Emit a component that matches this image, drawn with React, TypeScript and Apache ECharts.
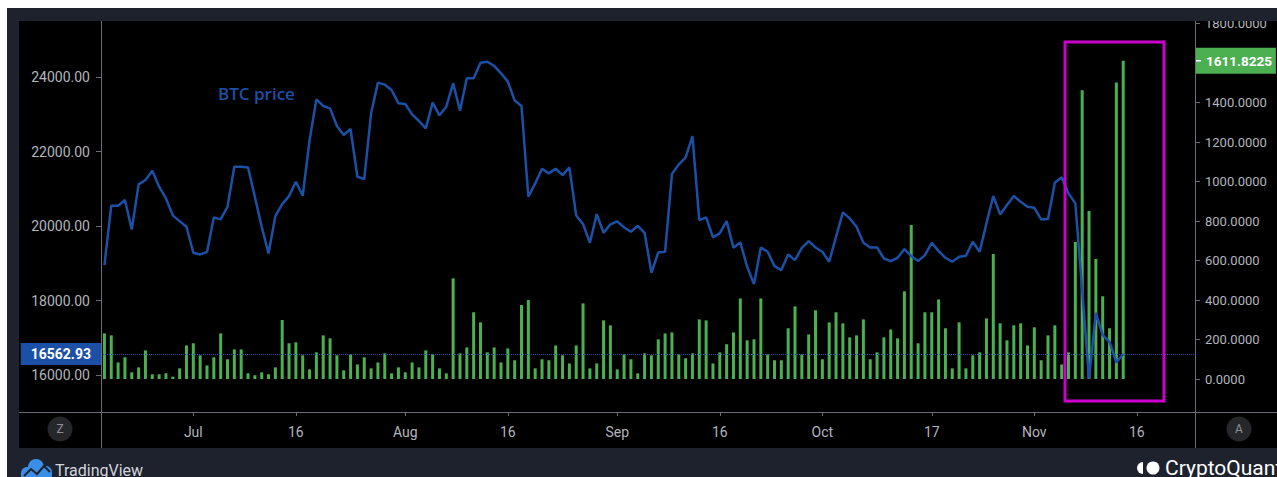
import React, { useEffect, useRef } from "react";
import * as echarts from "echarts";

// ---------- data ----------
const START_DATE = "2022-06-18";
const CATEGORY_COUNT = 160; // axis runs a few days past the last data point

// daily exchange flow (right axis)
const BAR_VALUES = [
  231, 221, 84, 110, 34, 59, 145, 24, 24, 29,
  12, 54, 170, 181, 120, 69, 110, 231, 100, 150,
  150, 29, 19, 34, 24, 59, 299, 181, 186, 120,
  49, 135, 221, 206, 120, 44, 125, 74, 110, 54,
  84, 130, 29, 59, 34, 84, 59, 145, 125, 54,
  29, 510, 130, 160, 338, 287, 135, 160, 84, 155,
  95, 375, 400, 54, 100, 95, 170, 120, 79, 170,
  383, 54, 79, 297, 272, 49, 125, 100, 29, 130,
  120, 201, 231, 236, 125, 105, 130, 302, 297, 79,
  135, 176, 236, 408, 196, 201, 408, 125, 95, 95,
  257, 368, 125, 226, 348, 100, 287, 338, 282, 211,
  221, 302, 100, 135, 211, 251, 206, 444, 780, 181,
  338, 338, 403, 257, 54, 287, 54, 120, 135, 307,
  633, 282, 196, 272, 282, 170, 262, 95, 221, 272,
  74, 135, 694, 1462, 851, 608, 419, 257, 1502, 1611.8225,
];

// BTC price (left axis)
const PRICE_VALUES = [
  18950, 20544, 20544, 20697, 19908, 21117, 21234, 21485, 21055, 20741,
  20285, 20132, 19980, 19281, 19237, 19299, 20231, 20177, 20517, 21592,
  21592, 21574, 20786, 19980, 19264, 20267, 20589, 20804, 21189, 20813,
  22300, 23401, 23222, 23159, 22685, 22443, 22604, 21323, 21261, 23025,
  23849, 23795, 23652, 23294, 23276, 22998, 22819, 22622, 23312, 22971,
  23204, 23831, 23097, 23965, 23965, 24386, 24413, 24297, 24100, 23876,
  23370, 23222, 20786, 21144, 21538, 21413, 21538, 21368, 21574, 20285,
  20052, 19550, 20320, 19819, 20043, 20123, 19962, 19846, 20007, 19819,
  18744, 19290, 19308, 21395, 21655, 21834, 22416, 20159, 20231, 19693,
  19810, 20132, 19416, 19559, 18905, 18440, 19425, 19308, 18923, 18816,
  19237, 19084, 19416, 19595, 19425, 19308, 19040, 19711, 20365, 20204,
  19980, 19550, 19425, 19425, 19129, 19058, 19147, 19380, 19192, 19058,
  19219, 19550, 19326, 19147, 19040, 19174, 19201, 19577, 19308, 20070,
  20804, 20311, 20562, 20804, 20652, 20517, 20490, 20177, 20186, 21162,
  21310, 20876, 20608, 18278, 15906, 17668, 17069, 16889, 16336, 16562.93,
];

const X_TICKS = [
  { date: "2022-07-01", label: "Jul" },
  { date: "2022-07-16", label: "16" },
  { date: "2022-08-01", label: "Aug" },
  { date: "2022-08-16", label: "16" },
  { date: "2022-09-01", label: "Sep" },
  { date: "2022-09-16", label: "16" },
  { date: "2022-10-01", label: "Oct" },
  { date: "2022-10-17", label: "17" },
  { date: "2022-11-01", label: "Nov" },
  { date: "2022-11-16", label: "16" },
];

const LEFT_MIN = 15007;
const LEFT_MAX = 25504;
const RIGHT_MIN = -167;
const RIGHT_MAX = 1813;
const LAST_PRICE = 16562.93;
const LAST_BAR = 1611.8225;

function buildCategories(): string[] {
  const out: string[] = [];
  const base = new Date(START_DATE + "T00:00:00Z").getTime();
  for (let i = 0; i < CATEGORY_COUNT; i++) {
    out.push(new Date(base + i * 86400000).toISOString().slice(0, 10));
  }
  return out;
}

const FONT = "Roboto, 'Noto Sans', sans-serif";
const AXIS_TEXT = "#b2b5be";
const FRAME_LINE = "#6a6d76";
const PANEL = "#1e222d";
const BLUE = "#1c50a6";
const GREEN = "#4caf50";

export default function App() {
  const ref = useRef<HTMLDivElement>(null);

  useEffect(() => {
    if (!ref.current) return;
    const chart = echarts.init(ref.current, undefined, { renderer: "svg" });
    const categories = buildCategories();
    const tickMap = new Map<string, string>();
    X_TICKS.forEach((t) => tickMap.set(t.date, t.label));
    const showTick = (_i: number, v: string) => tickMap.has(v);

    chart.setOption({
      animation: false,
      backgroundColor: "transparent",
      textStyle: { fontFamily: FONT },
      grid: { left: 101, right: 82, top: 21, bottom: 65, containLabel: false },
      xAxis: {
        type: "category",
        position: "bottom",
        data: categories,
        boundaryGap: true,
        axisLine: { show: false, onZero: false },
        axisTick: {
          show: true,
          alignWithLabel: true,
          interval: showTick,
          length: 4,
          lineStyle: { color: FRAME_LINE },
        },
        axisLabel: {
          interval: showTick,
          formatter: (v: string) => tickMap.get(v) || "",
          color: AXIS_TEXT,
          fontSize: 14,
          fontFamily: FONT,
          margin: 13,
        },
        splitLine: { show: false },
      },
      yAxis: [
        {
          type: "value",
          position: "left",
          min: LEFT_MIN,
          max: LEFT_MAX,
          splitNumber: 5,
          axisLine: { show: false, onZero: false },
          axisTick: { show: true, length: 5, lineStyle: { color: FRAME_LINE } },
          axisLabel: {
            color: AXIS_TEXT,
            fontSize: 14,
            fontFamily: FONT,
            margin: 11,
            showMinLabel: false,
            showMaxLabel: false,
            formatter: (v: number) => (v % 2000 === 0 ? v.toFixed(2) : ""),
          },
          splitLine: { show: false },
        },
        {
          type: "value",
          position: "right",
          min: RIGHT_MIN,
          max: RIGHT_MAX,
          splitNumber: 9,
          axisLine: { show: false, onZero: false },
          axisTick: { show: true, length: 5, lineStyle: { color: FRAME_LINE } },
          axisLabel: {
            color: AXIS_TEXT,
            fontSize: 13,
            fontFamily: FONT,
            margin: 10,
            showMinLabel: false,
            showMaxLabel: false,
            formatter: (v: number) => (v % 200 === 0 && v !== 1600 ? v.toFixed(4) : ""),
          },
          splitLine: { show: false },
        },
      ],
      series: [
        {
          name: "Flow",
          type: "bar",
          yAxisIndex: 1,
          data: BAR_VALUES,
          barWidth: 3,
          itemStyle: { color: GREEN },
          z: 2,
          markLine: {
            silent: true,
            symbol: ["none", "none"],
            lineStyle: { color: "rgba(0,0,0,0)", width: 0 },
            data: [{ yAxis: LAST_BAR }],
            label: {
              show: true,
              position: "end",
              distance: 0,
              formatter: "{t|}{v|" + LAST_BAR.toFixed(4) + "}",
              backgroundColor: GREEN,
              padding: [6, 4, 6, 1],
              rich: {
                t: { width: 5, height: 1.5, backgroundColor: "#ffffff" },
                v: {
                  color: "#ffffff",
                  fontSize: 13.5,
                  fontWeight: "bold",
                  fontFamily: FONT,
                  padding: [0, 0, 0, 5],
                },
              },
            },
          },
        },
        {
          name: "BTC price",
          type: "line",
          yAxisIndex: 0,
          data: PRICE_VALUES,
          symbol: "none",
          showSymbol: false,
          lineStyle: { color: BLUE, width: 2.5 },
          z: 3,
          markLine: {
            silent: true,
            symbol: ["none", "none"],
            lineStyle: { color: BLUE, type: "dotted", width: 1 },
            data: [{ yAxis: LAST_PRICE }],
            label: {
              show: true,
              position: "start",
              distance: 0,
              formatter: LAST_PRICE.toFixed(2),
              backgroundColor: BLUE,
              color: "#ffffff",
              fontSize: 14,
              fontWeight: "bold",
              fontFamily: FONT,
              padding: [4, 10, 4, 10],
            },
          },
        },
      ],
      graphic: [
        // top band covering the clipped top label
        { type: "rect", z: 100, silent: true, shape: { x: 7, y: 8, width: 1270, height: 13 }, style: { fill: PANEL } },
        // frame lines
        { type: "line", z: 90, silent: true, shape: { x1: 19, y1: 412.5, x2: 1277, y2: 412.5 }, style: { stroke: FRAME_LINE, lineWidth: 1 } },
        { type: "line", z: 90, silent: true, shape: { x1: 101.5, y1: 21, x2: 101.5, y2: 448 }, style: { stroke: FRAME_LINE, lineWidth: 1 } },
        { type: "line", z: 90, silent: true, shape: { x1: 1195.5, y1: 21, x2: 1195.5, y2: 448 }, style: { stroke: FRAME_LINE, lineWidth: 1 } },
        // annotation box
        { type: "rect", z: 95, silent: true, shape: { x: 1065, y: 42, width: 99, height: 359 }, style: { fill: "none", stroke: "#cc00cc", lineWidth: 3 } },
        // series title
        {
          type: "text", z: 95, silent: true, x: 218, y: 93,
          style: { text: "BTC price", fill: BLUE, fontSize: 17, fontWeight: 600, fontFamily: "'Open Sans', sans-serif", verticalAlign: "middle", align: "left" },
        },
        // Z / A buttons
        { type: "circle", z: 95, silent: true, shape: { cx: 60, cy: 429, r: 12.5 }, style: { fill: "#26272b" } },
        { type: "text", z: 96, silent: true, x: 60, y: 429, style: { text: "Z", fill: "#8d8f96", fontSize: 12, fontFamily: FONT, align: "center", verticalAlign: "middle" } },
        { type: "circle", z: 95, silent: true, shape: { cx: 1239, cy: 429, r: 12.5 }, style: { fill: "#26272b" } },
        { type: "text", z: 96, silent: true, x: 1239, y: 429, style: { text: "A", fill: "#8d8f96", fontSize: 12, fontFamily: FONT, align: "center", verticalAlign: "middle" } },
        // TradingView logo
        { type: "circle", z: 95, silent: true, shape: { cx: 27, cy: 473, r: 6 }, style: { fill: "#3a8ee6" } },
        { type: "circle", z: 95, silent: true, shape: { cx: 36, cy: 467, r: 8 }, style: { fill: "#3a8ee6" } },
        { type: "circle", z: 95, silent: true, shape: { cx: 46, cy: 472, r: 6 }, style: { fill: "#3a8ee6" } },
        { type: "rect", z: 95, silent: true, shape: { x: 21, y: 472, width: 31, height: 5 }, style: { fill: "#3a8ee6" } },
        { type: "polyline", z: 96, silent: true, shape: { points: [[24, 476], [31, 469], [37, 474], [44, 466], [50, 472]] }, style: { stroke: PANEL, lineWidth: 2, fill: "none" } },
        { type: "text", z: 95, silent: true, x: 55, y: 470, style: { text: "TradingView", fill: "#d1d4dc", fontSize: 16, fontFamily: FONT, verticalAlign: "middle", align: "left" } },
        // CryptoQuant logo
        { type: "sector", z: 95, silent: true, shape: { cx: 1143, cy: 468, r: 6, r0: 0, startAngle: Math.PI / 2, endAngle: Math.PI * 1.5 }, style: { fill: "#ffffff" } },
        { type: "circle", z: 95, silent: true, shape: { cx: 1153, cy: 468, r: 6.5 }, style: { fill: "#ffffff" } },
        { type: "text", z: 95, silent: true, x: 1165, y: 468, style: { text: "CryptoQuant", fill: "#ffffff", fontSize: 21, fontFamily: FONT, verticalAlign: "middle", align: "left" } },
      ],
    });

    return () => chart.dispose();
  }, []);

  return (
    <div style={{ position: "absolute", left: 0, top: 0, width: 1277, height: 477, background: "#ffffff", overflow: "hidden" }}>
      <div style={{ position: "absolute", left: 7, top: 8, width: 1270, height: 469, background: PANEL }} />
      <div style={{ position: "absolute", left: 19, top: 21, width: 1258, height: 427, background: "#000000" }} />
      <div ref={ref} style={{ position: "absolute", left: 0, top: 0, width: 1277, height: 477 }} />
    </div>
  );
}
